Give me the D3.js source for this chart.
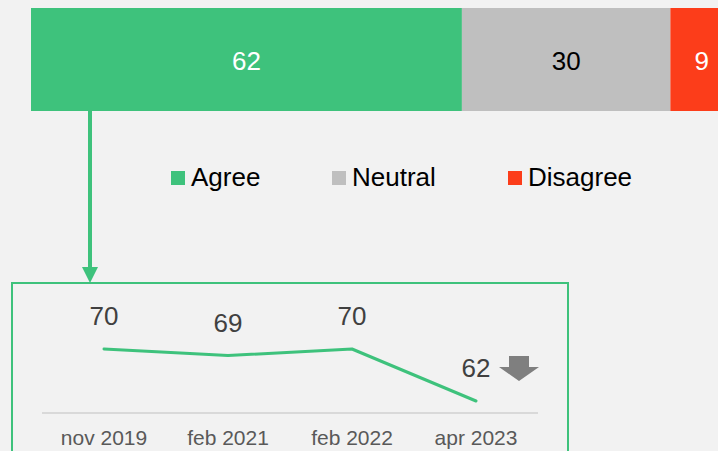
<!DOCTYPE html>
<html>
<head>
<meta charset="utf-8">
<script src="https://cdn.jsdelivr.net/npm/d3@7"></script>
<style>
  body { margin: 0; background: #f2f2f2; }
  svg { display: block; font-family: Arial, "Liberation Sans", sans-serif; }
</style>
</head>
<body>
<div id="chart"></div>
<script>
// Stacked bar data
const categories = ["Agree", "Neutral", "Disagree"];
const shares = [62, 30, 9];
const colors = ["#3ec27c", "#bfbfbf", "#fc3d1a"];
const labelColors = ["#ffffff", "#000000", "#ffffff"];

// Trend of "Agree"
const periods = ["nov 2019", "feb 2021", "feb 2022", "apr 2023"];
const agreeTrend = [70, 69, 70, 62];

const width = 718, height = 451;

const svg = d3.select("#chart")
    .append("svg")
    .attr("width", width)
    .attr("height", height);

svg.append("rect")
    .attr("width", width)
    .attr("height", height)
    .attr("fill", "#f2f2f2");

// Horizontal stacked bar
const x = d3.scaleLinear()
    .domain([0, 100])
    .range([31, 726]);

let cum = 0;
const stacked = shares.map((v, i) => {
    const d = { name: categories[i], value: v, start: cum, end: cum + v, i: i };
    cum += v;
    return d;
});

const barTop = 8, barHeight = 103;

svg.selectAll(".seg")
    .data(stacked)
    .enter().append("rect")
    .attr("class", "seg")
    .attr("x", d => x(d.start))
    .attr("y", barTop)
    .attr("width", d => x(d.end) - x(d.start))
    .attr("height", barHeight)
    .attr("fill", d => colors[d.i]);

svg.selectAll(".seg-label")
    .data(stacked)
    .enter().append("text")
    .attr("class", "seg-label")
    .attr("x", d => (x(d.start) + x(d.end)) / 2)
    .attr("y", 70)
    .attr("text-anchor", "middle")
    .attr("font-size", 26)
    .attr("fill", d => labelColors[d.i])
    .text(d => d.value);

// Legend
const legendX = [171, 332, 508];
const legend = svg.selectAll(".legend")
    .data(categories)
    .enter().append("g")
    .attr("class", "legend")
    .attr("transform", (d, i) => `translate(${legendX[i]},171)`);

legend.append("rect")
    .attr("width", 14)
    .attr("height", 14)
    .attr("fill", (d, i) => colors[i]);

legend.append("text")
    .attr("x", 20)
    .attr("y", 15)
    .attr("font-size", 26)
    .attr("fill", "#000")
    .text(d => d);

// Arrow from the green segment to the trend box
const green = "#3ec27c";
svg.append("line")
    .attr("x1", 90).attr("x2", 90)
    .attr("y1", barTop + barHeight)
    .attr("y2", 268)
    .attr("stroke", green)
    .attr("stroke-width", 4);

svg.append("path")
    .attr("d", "M82,267 L98,267 L90,283 Z")
    .attr("fill", green);

// Trend box
svg.append("rect")
    .attr("x", 12)
    .attr("y", 283)
    .attr("width", 556)
    .attr("height", 200)
    .attr("fill", "none")
    .attr("stroke", green)
    .attr("stroke-width", 2);

// Trend line chart
const xt = d3.scaleBand()
    .domain(periods)
    .range([42, 538]);

const yt = d3.scaleLinear()
    .domain([62, 70])
    .range([401, 349]);

const axisY = 413;

svg.append("line")
    .attr("x1", 42).attr("x2", 538)
    .attr("y1", axisY).attr("y2", axisY)
    .attr("stroke", "#d9d9d9")
    .attr("stroke-width", 2);

const trend = periods.map((p, i) => ({ period: p, value: agreeTrend[i] }));

const line = d3.line()
    .x(d => xt(d.period) + xt.bandwidth() / 2)
    .y(d => yt(d.value));

svg.append("path")
    .datum(trend)
    .attr("d", line)
    .attr("fill", "none")
    .attr("stroke", green)
    .attr("stroke-width", 3)
    .attr("stroke-linecap", "round")
    .attr("stroke-linejoin", "round");

svg.selectAll(".trend-label")
    .data(trend)
    .enter().append("text")
    .attr("class", "trend-label")
    .attr("x", d => xt(d.period) + xt.bandwidth() / 2)
    .attr("y", d => yt(d.value) - 24)
    .attr("text-anchor", "middle")
    .attr("font-size", 26)
    .attr("fill", "#404040")
    .text(d => d.value);

svg.selectAll(".period-label")
    .data(periods)
    .enter().append("text")
    .attr("class", "period-label")
    .attr("x", d => xt(d) + xt.bandwidth() / 2)
    .attr("y", 445)
    .attr("text-anchor", "middle")
    .attr("font-size", 21)
    .attr("fill", "#595959")
    .text(d => d);

// Down arrow next to the latest value
svg.append("path")
    .attr("d", "M509,356 L529,356 L529,367 L539,367 L519,381 L499,367 L509,367 Z")
    .attr("fill", "#7f7f7f");
</script>
</body>
</html>
